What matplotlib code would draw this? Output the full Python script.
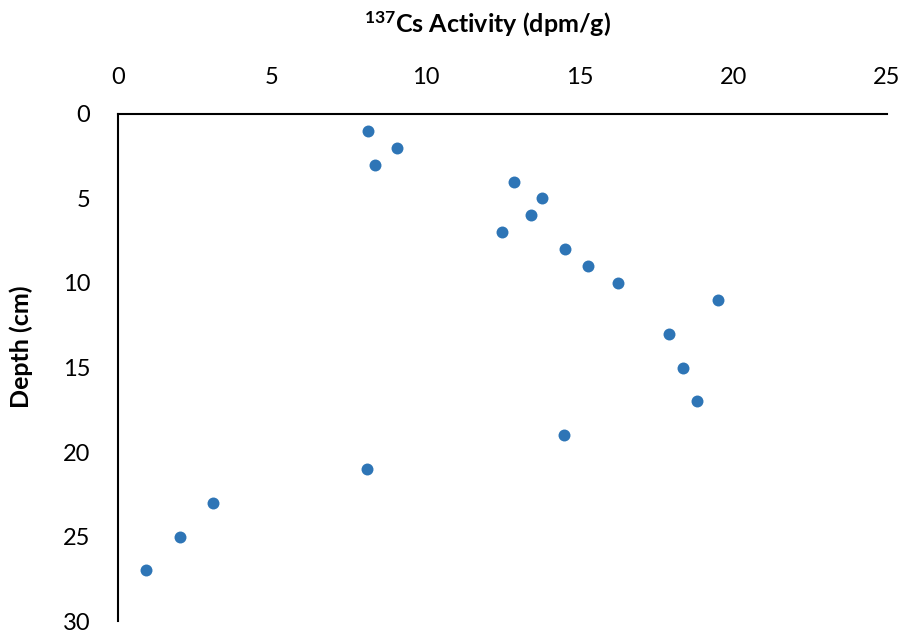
import numpy as np
import matplotlib.pyplot as plt

plt.rcParams['font.family'] = ['Lato', 'DejaVu Sans']
plt.rcParams['mathtext.fontset'] = 'custom'
plt.rcParams['mathtext.rm'] = 'Lato'
plt.rcParams['mathtext.bf'] = 'Lato:bold'

# Cs-137 activity profile with depth
activity = [8.13, 9.07, 8.36, 12.87, 13.78, 13.43, 12.48, 14.53, 15.28, 16.26,
            19.5, 17.91, 18.37, 18.82, 14.5, 8.1, 3.09, 2.02, 0.91]
depth = [1, 2, 3, 4, 5, 6, 7, 8, 9, 10, 11, 13, 15, 17, 19, 21, 23, 25, 27]

fig = plt.figure(figsize=(9.07, 6.35), dpi=100)
ax = fig.add_axes([0.1301, 0.022, 0.8478, 0.7985])

ax.plot(activity, depth, 'o', color='#2E75B6', markersize=8.6, markeredgewidth=0)

ax.set_xlim(0, 25)
ax.set_ylim(30, 0)
ax.set_xticks(np.arange(0, 26, 5))
ax.set_yticks(np.arange(0, 31, 5))

ax.xaxis.tick_top()
ax.xaxis.set_label_position('top')
ax.tick_params(length=0, labelsize=17, colors='black')
ax.tick_params(axis='x', pad=19)
ax.tick_params(axis='y', pad=20)

for side in ['right', 'bottom']:
    ax.spines[side].set_visible(False)
for side in ['left', 'top']:
    ax.spines[side].set_linewidth(1.5)

ax.set_xlabel(r'$\mathbf{^{137}}$Cs Activity (dpm/g)', fontsize=18, fontweight='bold')
ax.set_ylabel('Depth (cm)', fontsize=18, fontweight='bold')
ax.xaxis.set_label_coords(0.48, 1.16)
ax.yaxis.set_label_coords(-0.11, 0.54)

plt.savefig('out.png', dpi=100)
